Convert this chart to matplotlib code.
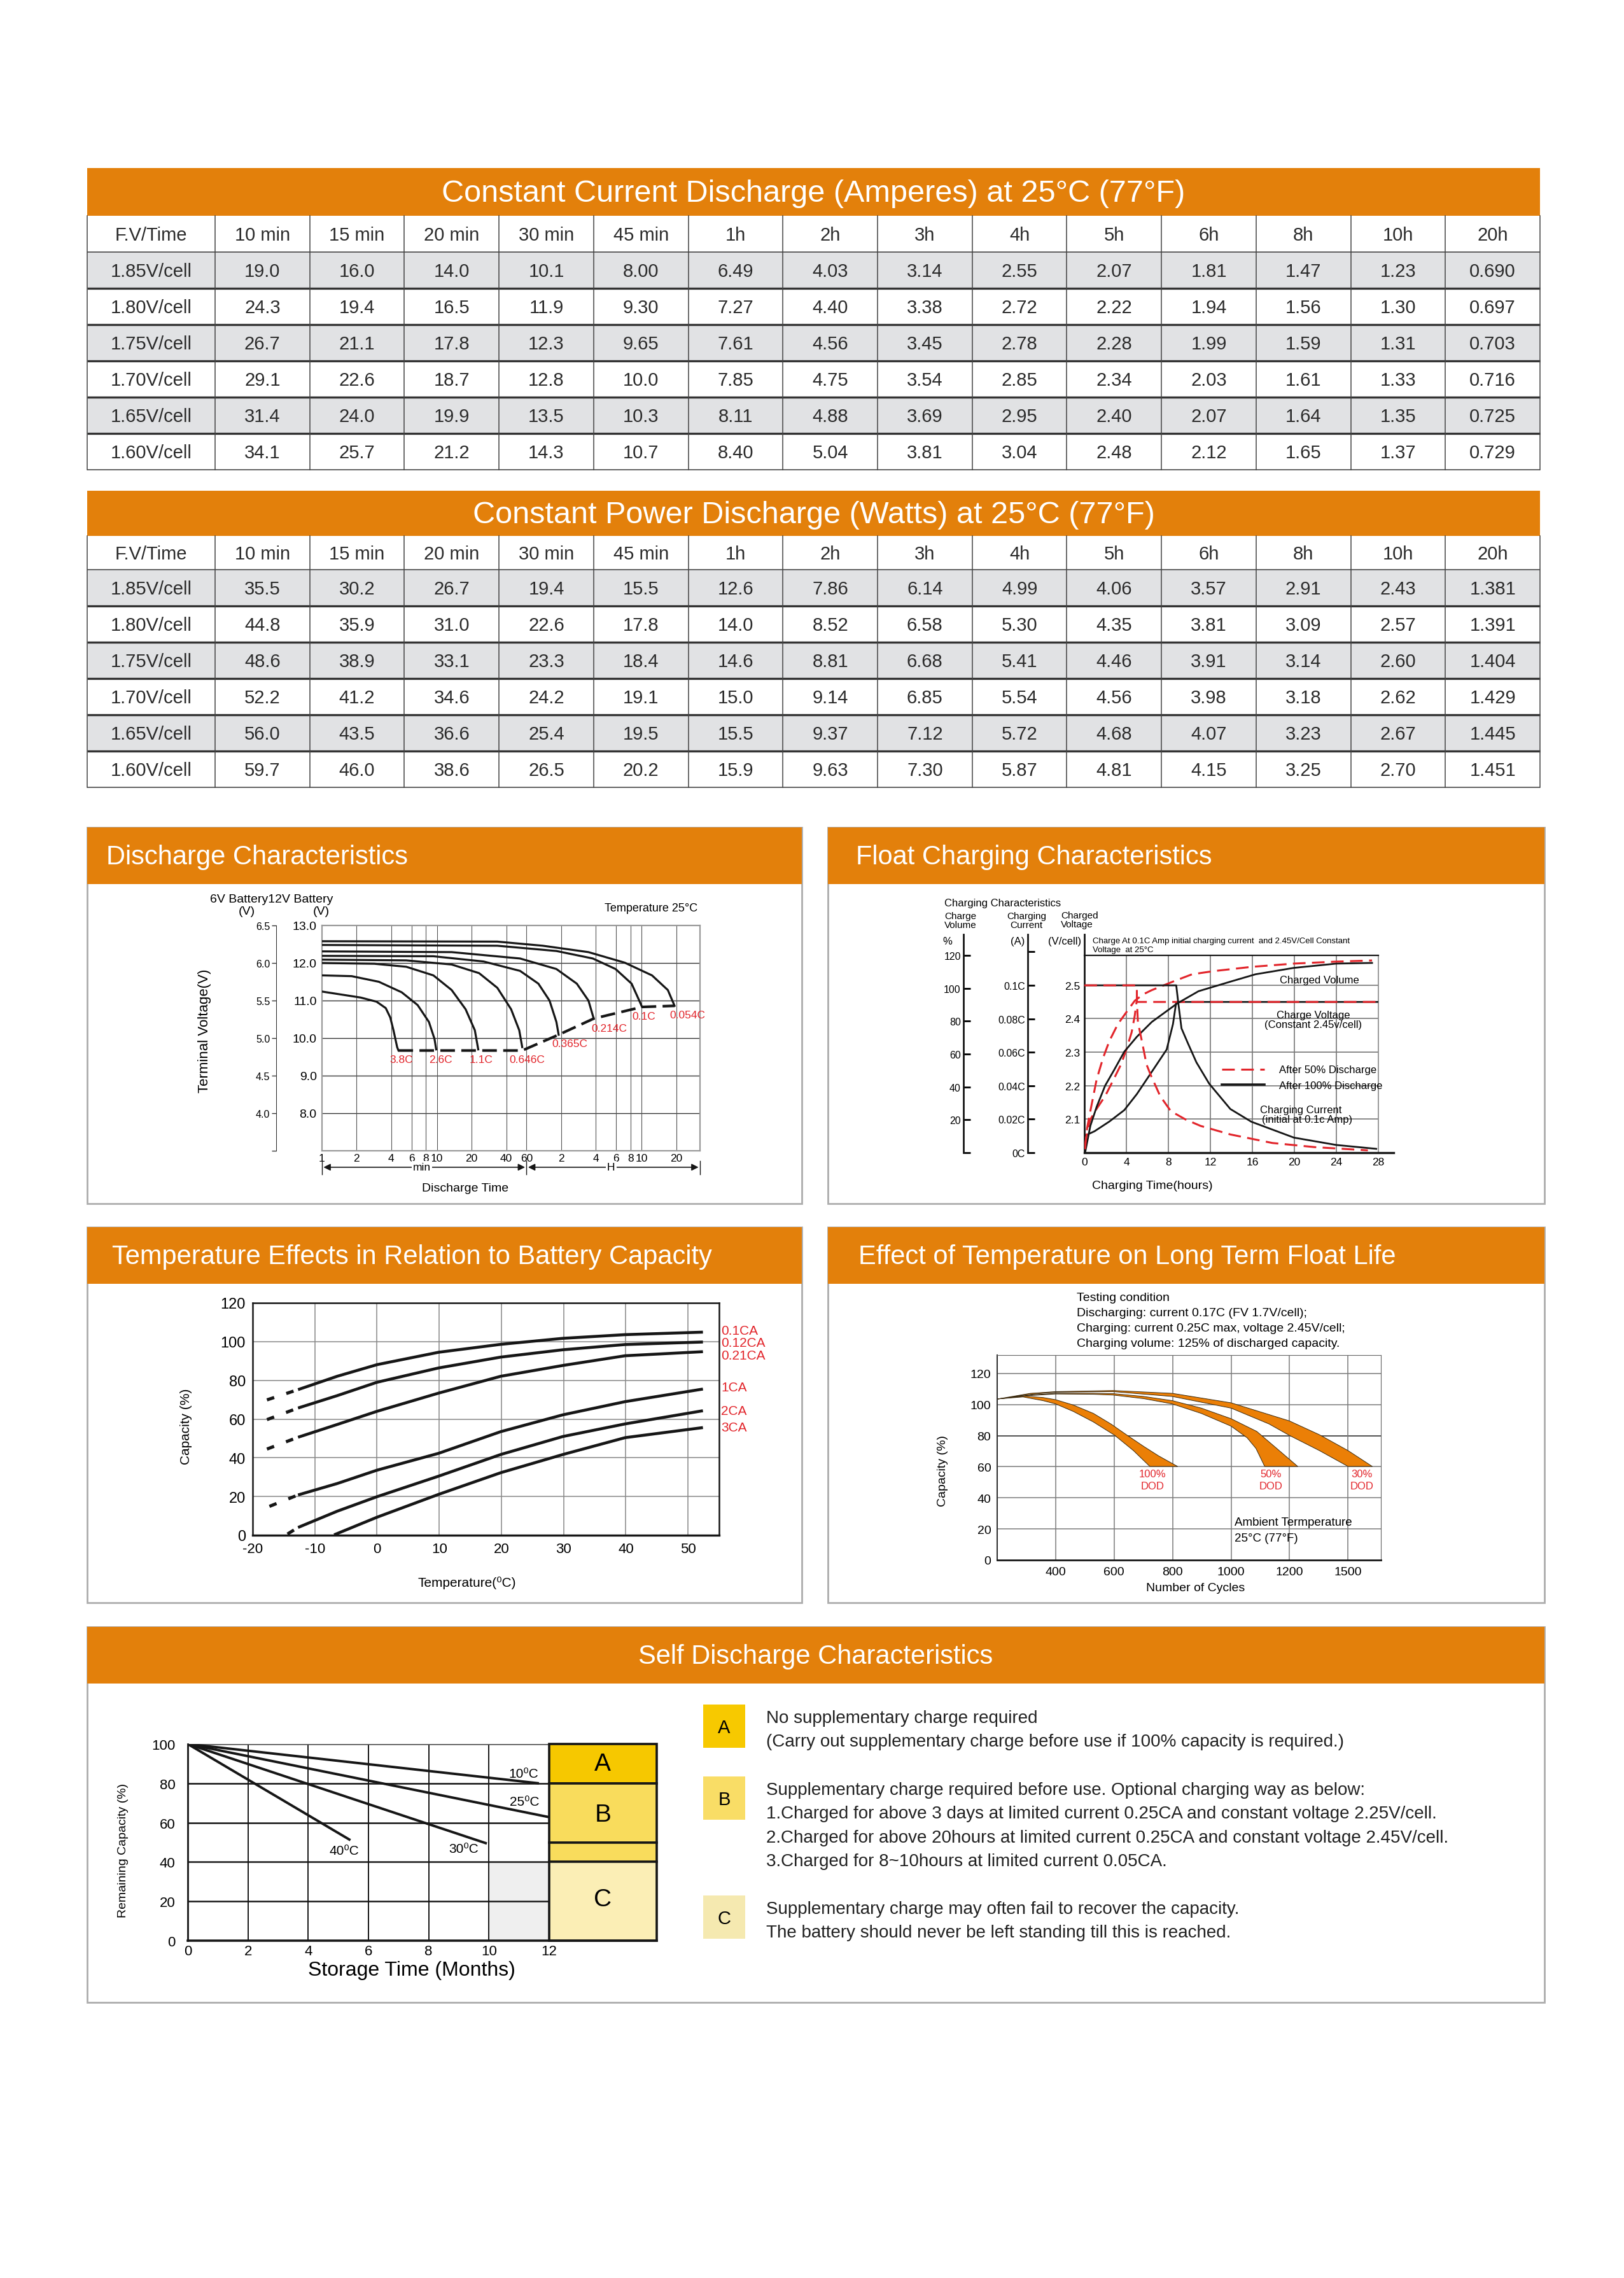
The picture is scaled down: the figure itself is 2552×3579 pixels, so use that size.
import matplotlib
matplotlib.use("Agg")
import matplotlib.pyplot as plt
from matplotlib.patches import Rectangle
from matplotlib.lines import Line2D
from matplotlib.ticker import NullLocator

plt.rcParams['font.family'] = ['Liberation Sans', 'DejaVu Sans']
plt.rcParams['axes.unicode_minus'] = False

W, H = 2552, 3580
ORANGE = '#e3800b'
BAND = '#eb7f06'
RED = '#e2252b'
INK = '#161616'

# ---------------- discharge tables ----------------
time_cols = ['F.V/Time', '10 min', '15 min', '20 min', '30 min', '45 min', '1h', '2h', '3h',
             '4h', '5h', '6h', '8h', '10h', '20h']
fv_labels = ['1.85V/cell', '1.80V/cell', '1.75V/cell', '1.70V/cell', '1.65V/cell', '1.60V/cell']
amps = [
    ['19.0', '16.0', '14.0', '10.1', '8.00', '6.49', '4.03', '3.14', '2.55', '2.07', '1.81', '1.47', '1.23', '0.690'],
    ['24.3', '19.4', '16.5', '11.9', '9.30', '7.27', '4.40', '3.38', '2.72', '2.22', '1.94', '1.56', '1.30', '0.697'],
    ['26.7', '21.1', '17.8', '12.3', '9.65', '7.61', '4.56', '3.45', '2.78', '2.28', '1.99', '1.59', '1.31', '0.703'],
    ['29.1', '22.6', '18.7', '12.8', '10.0', '7.85', '4.75', '3.54', '2.85', '2.34', '2.03', '1.61', '1.33', '0.716'],
    ['31.4', '24.0', '19.9', '13.5', '10.3', '8.11', '4.88', '3.69', '2.95', '2.40', '2.07', '1.64', '1.35', '0.725'],
    ['34.1', '25.7', '21.2', '14.3', '10.7', '8.40', '5.04', '3.81', '3.04', '2.48', '2.12', '1.65', '1.37', '0.729'],
]
watts = [
    ['35.5', '30.2', '26.7', '19.4', '15.5', '12.6', '7.86', '6.14', '4.99', '4.06', '3.57', '2.91', '2.43', '1.381'],
    ['44.8', '35.9', '31.0', '22.6', '17.8', '14.0', '8.52', '6.58', '5.30', '4.35', '3.81', '3.09', '2.57', '1.391'],
    ['48.6', '38.9', '33.1', '23.3', '18.4', '14.6', '8.81', '6.68', '5.41', '4.46', '3.91', '3.14', '2.60', '1.404'],
    ['52.2', '41.2', '34.6', '24.2', '19.1', '15.0', '9.14', '6.85', '5.54', '4.56', '3.98', '3.18', '2.62', '1.429'],
    ['56.0', '43.5', '36.6', '25.4', '19.5', '15.5', '9.37', '7.12', '5.72', '4.68', '4.07', '3.23', '2.67', '1.445'],
    ['59.7', '46.0', '38.6', '26.5', '20.2', '15.9', '9.63', '7.30', '5.87', '4.81', '4.15', '3.25', '2.70', '1.451'],
]

# ---------------- discharge characteristics (minutes, 12V volts) ----------------
rate_labels = ['3.8C', '2.6C', '1.1C', '0.646C', '0.365C', '0.214C', '0.1C', '0.054C']
d38_t = [1, 2.17, 2.98, 3.58, 3.92, 4.18, 4.5, 4.62]
d38_v = [11.24, 11.08, 10.97, 10.80, 10.55, 10.21, 9.76, 9.67]
d26_t = [1.02, 1.81, 3.12, 4.93, 6.78, 8.5, 9.5, 9.83]
d26_v = [11.67, 11.65, 11.5, 11.22, 10.88, 10.43, 9.98, 9.70]
d11_t = [1, 2.85, 5.4, 9.3, 13.4, 17.7, 21.3, 22.8]
d11_v = [12.0, 11.98, 11.9, 11.67, 11.28, 10.77, 10.21, 9.70]
d0646_t = [1, 5.4, 13.4, 23.2, 33.4, 44, 51.8, 55]
d0646_v = [12.09, 12.07, 11.96, 11.73, 11.34, 10.77, 10.21, 9.76]
d0365_t = [1, 9.3, 25.4, 52.7, 76, 95, 109, 114]
d0365_v = [12.19, 12.18, 12.04, 11.79, 11.45, 11.0, 10.43, 10.09]
d0214_t = [1, 13.4, 52.7, 109, 164, 207, 230]
d0214_v = [12.31, 12.29, 12.12, 11.84, 11.45, 11.0, 10.52]
d01_t = [1, 33.4, 109, 226, 356, 491, 572, 605]
d01_v = [12.48, 12.46, 12.32, 12.12, 11.84, 11.45, 11.0, 10.83]
d0054_t = [1, 33.4, 83, 207, 427, 739, 1014, 1160]
d0054_v = [12.58, 12.57, 12.46, 12.29, 12.01, 11.67, 11.28, 10.86]
cut_t = [4.62, 55, 114, 230, 605, 1160]
cut_v = [9.67, 9.67, 10.09, 10.52, 10.83, 10.86]
rate_lab_t = [4.9, 10.7, 24.3, 61, 143, 312, 625, 1500]
rate_lab_v = [9.44, 9.44, 9.44, 9.44, 9.86, 10.27, 10.59, 10.62]
dt_ticks = [1, 2, 4, 6, 8, 10, 20, 40, 60, 120, 240, 360, 480, 600, 1200]
dt_labels = ['1', '2', '4', '6', '8', '10', '20', '40', '60', '2', '4', '6', '8', '10', '20']

# ---------------- float charging (hours) ----------------
v100_t = [0, 0.97, 2.38, 3.8, 5.0, 6.22, 7.84, 8.44, 8.75, 28]
v100_v = [2.05, 2.064, 2.093, 2.127, 2.175, 2.232, 2.308, 2.384, 2.45, 2.45]
i100_t = [0, 8.75, 8.95, 9.25, 9.86, 10.67, 11.88, 13.9, 15.9, 19.96, 24.0, 27.8]
i100_a = [0.1, 0.1, 0.0892, 0.0743, 0.0654, 0.054, 0.0413, 0.0261, 0.0185, 0.009, 0.0046, 0.0023]
c100_t = [0.1, 0.57, 1.17, 1.98, 2.79, 3.8, 5.0, 6.42, 8.85, 10.87, 13.9, 16.3, 19.96, 24.0, 27.4]
c100_p = [1, 16.3, 27.9, 40.8, 49.8, 61.4, 70.5, 79.5, 90.8, 98.2, 104, 108.5, 112.4, 115, 115.4]
v50_t = [0.05, 0.3, 0.57, 1.17, 1.98, 2.79, 3.5, 4.0, 4.5, 4.8, 4.97, 28]
v50_v = [2.02, 2.07, 2.099, 2.131, 2.169, 2.219, 2.264, 2.308, 2.359, 2.409, 2.45, 2.45]
i50_t = [0, 5.0, 5.0, 5.1, 5.52, 5.92, 6.32, 7.23, 8.24, 9.65, 11.07, 13.9, 17.9, 21.98, 27.0]
i50_a = [0.1, 0.1, 0.091, 0.078, 0.0654, 0.0527, 0.0464, 0.0337, 0.0248, 0.0198, 0.016, 0.0109, 0.0058, 0.0033, 0.0014]
c50_t = [0.06, 0.26, 0.57, 1.17, 1.78, 2.38, 3.19, 4.2, 4.8, 5.6, 6.4, 8.65, 10.26, 12.28, 15.9, 19.96, 24.0, 27.4]
c50_p = [2.1, 15, 25.3, 44.6, 57.6, 67.9, 78.2, 87.2, 92.4, 96.3, 98.8, 104.6, 108.5, 110.4, 113, 115, 116.2, 116.9]

# ---------------- temperature vs capacity ----------------
temp_solid = [-12.7, -6.4, 0, 9.9, 19.9, 29.9, 39.9, 52.4]
cap_01 = [75.2, 82.1, 88.1, 94.5, 98.6, 101.7, 103.6, 104.9]
cap_012 = [65.7, 72.1, 79, 86.4, 92, 95.8, 98.5, 99.8]
cap_021 = [50.6, 57.2, 64, 73.4, 82.1, 87.7, 92.7, 94.8]
cap_1 = [20.8, 26.7, 33.6, 42.3, 53.5, 62.2, 69, 75.5]
cap_2 = [4, 12.4, 19.9, 30.5, 41.7, 51, 57.5, 64.3]
temp_3 = [-6.9, 0, 9.9, 19.9, 29.9, 39.9, 52.4]
cap_3 = [0.2, 9.3, 21.1, 32.3, 41.7, 50.4, 55.6]
dash_t = [[-17.7, -12.7], [-17.7, -12.7], [-17.7, -12.7], [-17.3, -12.7], [-14.4, -12.7]]
dash_c = [[69.9, 75.2], [59.7, 65.7], [44.5, 50.6], [14.9, 20.8], [0.6, 4]]
ca_labels = ['0.1CA', '0.12CA', '0.21CA', '1CA', '2CA', '3CA']
ca_lab_y = [105.7, 99.3, 92.9, 76.5, 64.4, 55.7]

# ---------------- float life (cycles, %) ----------------
dod100_lo_x = [202, 288, 357, 400, 460, 529, 602, 666, 722]
dod100_lo_y = [103.6, 104.9, 102.5, 100.4, 95.6, 88.8, 80.2, 70.4, 60.2]
dod100_up_x = [202, 288, 357, 400, 460, 529, 589, 645, 701, 752, 817]
dod100_up_y = [103.6, 105.5, 104.5, 103.1, 99.7, 94.3, 87.5, 80.2, 73.1, 67.0, 60.2]
dod50_lo_x = [202, 314, 400, 529, 597, 701, 799, 898, 1000, 1055, 1085, 1115]
dod50_lo_y = [103.6, 105.8, 106.8, 106.6, 106.1, 103.8, 100.4, 94.3, 86.1, 78.6, 71.8, 60.2]
dod50_up_x = [202, 314, 400, 529, 597, 701, 799, 898, 1000, 1088, 1156, 1228]
dod50_up_y = [103.6, 106.1, 107.2, 107.2, 107.0, 105.2, 102.5, 97.7, 90.9, 82.7, 71.8, 60.2]
dod30_lo_x = [202, 314, 400, 597, 799, 1000, 1130, 1199, 1302, 1400]
dod30_lo_y = [103.6, 106.6, 107.9, 108.3, 105.2, 97.7, 87.5, 80.2, 70.4, 60.2]
dod30_up_x = [202, 314, 400, 597, 799, 1000, 1199, 1302, 1400, 1483]
dod30_up_y = [103.6, 107.2, 108.3, 109.0, 107.2, 101.1, 89.5, 80.6, 70.4, 60.2]
dod_labels = ['100%', '50%', '30%']
dod_lab_x = [731, 1137, 1447]
cyc_ticks = [400, 600, 800, 1000, 1200, 1400]
cyc_labels = ['400', '600', '800', '1000', '1200', '1500']

# ---------------- self discharge (months, %) ----------------
sd_months = [[0, 11.66], [0, 12], [0, 9.93], [0, 5.4]]
sd_caps = [[100, 80], [100, 62.8], [100, 49.4], [100, 51.1]]
sd_labels = ['10⁰C', '25⁰C', '30⁰C', '40⁰C']
sd_lab_x = [11.15, 11.18, 9.17, 5.19]
sd_lab_y = [85, 70.8, 46.9, 45.8]
zone_lo = [80, 50, 40, 0]
zone_hi = [100, 80, 50, 40]
zone_col = ['#f6c800', '#f9dc5c', '#f9dc5c', '#fbeeb5']
zone_txt = ['A', 'B', '', 'C']
zone_txt_y = [90, 64, 45, 21]
notes = [
    ['No supplementary charge required',
     '(Carry out supplementary charge before use if 100% capacity is required.)'],
    ['Supplementary charge required before use. Optional charging way as below:',
     '1.Charged for above 3 days at limited current 0.25CA and constant voltage 2.25V/cell.',
     '2.Charged for above 20hours at limited current 0.25CA and constant voltage 2.45V/cell.',
     '3.Charged for 8~10hours at limited current 0.05CA.'],
    ['Supplementary charge may often fail to recover the capacity.',
     'The battery should never be left standing till this is reached.'],
]

fig = plt.figure(figsize=(W / 100, H / 100), dpi=100)
bg = fig.add_axes([0, 0, 1, 1])
bg.set_xlim(0, W)
bg.set_ylim(H, 0)
bg.axis('off')


def rect(x0, y0, x1, y1):
    return [x0 / W, 1 - y1 / H, (x1 - x0) / W, (y1 - y0) / H]


def draw_table(top, band_h, head_h, row_h, title, values):
    x0, x1 = 137, 2420
    first_w = 201
    col_w = (x1 - x0 - first_w) / 14
    edges = [x0] + [x0 + first_w + i * col_w for i in range(15)]
    bg.add_patch(Rectangle((x0, top), x1 - x0, band_h, fc=ORANGE, ec='none'))
    bg.text((x0 + x1) / 2, top + band_h / 2 + 2, title, color='white', fontsize=35,
            ha='center', va='center')
    rows = [time_cols] + [[fv] + vals for fv, vals in zip(fv_labels, values)]
    y = top + band_h
    ys = [y]
    for r, cells in enumerate(rows):
        h = head_h if r == 0 else row_h
        fc = '#e1e2e4' if r % 2 == 1 else 'white'
        bg.add_patch(Rectangle((x0, y), x1 - x0, h, fc=fc, ec='none'))
        for c, txt in enumerate(cells):
            bg.text((edges[c] + edges[c + 1]) / 2, y + h / 2 + 1, txt, fontsize=21,
                    color='#2b2b2b', ha='center', va='center')
        y += h
        ys.append(y)
    for i, yy in enumerate(ys[1:], start=1):
        inner = 2 <= i <= len(ys) - 2
        bg.plot([x0, x1], [yy, yy], color='#333' if inner else '#555',
                lw=2.4 if inner else 1.3, solid_capstyle='butt')
    for xx in edges:
        bg.plot([xx, xx], [ys[0], ys[-1]], color='#444', lw=1.1)


def panel(x0, y0, x1, y1, title, tx, ha='left'):
    bg.add_patch(Rectangle((x0, y0), x1 - x0, y1 - y0, fc='white', ec='#adadad', lw=2))
    bg.add_patch(Rectangle((x0, y0), x1 - x0, 89, fc=ORANGE, ec='none'))
    bg.text(tx, y0 + 46, title, color='white', fontsize=30, ha=ha, va='center')


draw_table(265, 75, 57, 57, 'Constant Current Discharge (Amperes) at 25°C (77°F)', amps)
draw_table(772, 71, 53, 57, 'Constant Power Discharge (Watts) at 25°C (77°F)', watts)

panel(137, 1301, 1260, 1892, 'Discharge Characteristics', 167)
panel(1301, 1301, 2427, 1892, 'Float Charging Characteristics', 1345)
panel(137, 1929, 1260, 2519, 'Temperature Effects in Relation to Battery Capacity', 176)
panel(1301, 1929, 2427, 2519, 'Effect of Temperature on Long Term Float Life', 1349)
panel(137, 2557, 2427, 3147, 'Self Discharge Characteristics', 1282, ha='center')

# ================= Discharge Characteristics =================
ax1 = fig.add_axes(rect(506, 1455, 1100, 1809))
dis_t = [d38_t, d26_t, d11_t, d0646_t, d0365_t, d0214_t, d01_t, d0054_t]
dis_v = [d38_v, d26_v, d11_v, d0646_v, d0365_v, d0214_v, d01_v, d0054_v]
for t, v in zip(dis_t, dis_v):
    ax1.plot(t, v, color=INK, lw=2.3, solid_joinstyle='round', zorder=3)
ax1.plot(cut_t, cut_v, color=INK, lw=3.0, ls=(0, (5.5, 2.4)), zorder=3)
for lab, t, v in zip(rate_labels, rate_lab_t, rate_lab_v):
    ax1.text(t, v, lab, color=RED, fontsize=12.5, ha='center', va='center', clip_on=False, zorder=4)
ax1.set_xscale('log')
ax1.set_xlim(1, 1930)
ax1.set_ylim(7, 13)
ax1.set_xticks(dt_ticks)
ax1.set_xticklabels(dt_labels)
ax1.xaxis.set_minor_locator(NullLocator())
ax1.set_yticks([8, 9, 10, 11, 12, 13])
ax1.set_yticklabels(['8.0', '9.0', '10.0', '11.0', '12.0', '13.0'])
ax1.tick_params(axis='y', length=0, labelsize=14, pad=6)
ax1.tick_params(axis='x', length=0, labelsize=12.5, pad=3)
for v in [8, 9, 10, 11, 12]:
    ax1.axhline(v, color='#333', lw=1.0, zorder=1)
for t in dt_ticks[1:]:
    ax1.axvline(t, color='#555', lw=0.8, zorder=1)
for s in ax1.spines.values():
    s.set_color('#999')
    s.set_linewidth(1.6)
sec = ax1.secondary_yaxis(-0.121, functions=(lambda v: v / 2, lambda v: v * 2))
sec.set_yticks([3.5, 4.0, 4.5, 5.0, 5.5, 6.0, 6.5])
sec.set_yticklabels(['', '4.0', '4.5', '5.0', '5.5', '6.0', '6.5'])
sec.tick_params(length=5, width=1, labelsize=11.5, pad=2, color='#333')
sec.spines['left'].set_color('#333')
trans = ax1.get_xaxis_transform()
for a, b, lab, mid in [(1.0, 60, 'min', 7.4), (60, 1930, 'H', 326)]:
    ax1.annotate('', xy=(a * 1.03, -0.073), xytext=(b / 1.03, -0.073), xycoords=trans,
                 arrowprops=dict(arrowstyle='<|-|>', color=INK, lw=1.2, mutation_scale=16,
                                 shrinkA=0, shrinkB=0), annotation_clip=False)
    ax1.text(mid, -0.073, lab, transform=trans, fontsize=12.5, ha='center', va='center',
             bbox=dict(fc='white', ec='none', pad=1.5))
for xx in [1, 60, 1930]:
    ax1.plot([xx, xx], [-0.045, -0.105], transform=trans, color=INK, lw=1.0, clip_on=False)
bg.text(330, 1413, '6V Battery12V Battery', fontsize=14, ha='left', va='center')
bg.text(388, 1432, '(V)', fontsize=14, ha='center', va='center')
bg.text(505, 1432, '(V)', fontsize=14, ha='center', va='center')
bg.text(950, 1427, 'Temperature 25°C', fontsize=13, ha='left', va='center')
bg.text(322, 1620, 'Terminal Voltage(V)', fontsize=16, rotation=90, ha='center', va='center')
bg.text(731, 1868, 'Discharge Time', fontsize=14, ha='center', va='center')

# ================= Float Charging Characteristics =================
ax2 = fig.add_axes(rect(1704, 1502, 2166, 1812))
ax2c = fig.add_axes(rect(1704, 1502, 2166, 1812), facecolor='none')
ax2i = fig.add_axes(rect(1704, 1502, 2166, 1812), facecolor='none')
red_ls = (0, (6.5, 3.3))
ax2.plot(v100_t, v100_v, color=INK, lw=2.0, zorder=3)
ax2.plot(v50_t, v50_v, color=RED, lw=2.2, ls=red_ls, zorder=4)
ax2c.plot(c100_t, c100_p, color=INK, lw=2.0)
ax2c.plot(c50_t, c50_p, color=RED, lw=2.2, ls=red_ls)
ax2i.plot(i100_t, i100_a, color=INK, lw=2.0)
ax2i.plot(i50_t, i50_a, color=RED, lw=2.2, ls=red_ls)
for a in (ax2, ax2c, ax2i):
    a.set_xlim(0, 28)
ax2.set_ylim(2.0, 2.589)
ax2c.set_ylim(0, 120)
ax2i.set_ylim(0, 0.1179)
ax2c.axis('off')
ax2i.axis('off')
ax2.set_xticks([0, 4, 8, 12, 16, 20, 24, 28])
ax2.set_yticks([2.1, 2.2, 2.3, 2.4, 2.5])
ax2.set_yticklabels(['2.1', '2.2', '2.3', '2.4', '2.5'])
ax2.tick_params(axis='both', length=0, labelsize=12.5)
ax2.tick_params(axis='x', pad=5)
ax2.tick_params(axis='y', pad=5)
for v in [2.1, 2.2, 2.3, 2.4, 2.5]:
    ax2.axhline(v, color='#777', lw=1.2, zorder=1)
for t in [4, 8, 12, 16, 20, 24]:
    ax2.axvline(t, color='#777', lw=1.2, zorder=1)
ax2.spines['left'].set_linewidth(2)
ax2.spines['left'].set_color(INK)
ax2.spines['top'].set_linewidth(1.6)
ax2.spines['top'].set_color(INK)
ax2.spines['right'].set_color('#888')
ax2.spines['right'].set_linewidth(1.2)
ax2.spines['bottom'].set_linewidth(2.2)
ax2.plot([0, 29.45], [2.0, 2.0], color=INK, lw=2.4, clip_on=False, zorder=5)
ax2.text(22.4, 2.515, 'Charged Volume', fontsize=12, ha='center', va='center', zorder=5)
ax2.text(21.8, 2.411, 'Charge Voltage', fontsize=12, ha='center', va='center', zorder=5)
ax2.text(21.8, 2.382, '(Constant 2.45v/cell)', fontsize=12, ha='center', va='center', zorder=5)
ax2.text(20.6, 2.129, 'Charging Current', fontsize=12, ha='center', va='center', zorder=5)
ax2.text(21.2, 2.099, '(initial at 0.1c Amp)', fontsize=12, ha='center', va='center', zorder=5)
leg_handles = [Line2D([], [], color=RED, lw=2.2, ls=red_ls), Line2D([], [], color=INK, lw=2.6)]
ax2i.legend(leg_handles, ['After 50% Discharge', 'After 100% Discharge'], loc='upper left',
            bbox_to_anchor=(0.468, 0.444), frameon=False, fontsize=12, handlelength=4.0,
            handletextpad=1.4, labelspacing=0.55, borderpad=0, borderaxespad=0)

ax2p = fig.add_axes(rect(1514, 1469, 1515, 1812), facecolor='none')
ax2p.set_ylim(0, 132.8)
ax2p.set_yticks([0, 20, 40, 60, 80, 100, 120])
ax2p.set_yticklabels(['', '20', '40', '60', '80', '100', '120'])
ax2a = fig.add_axes(rect(1615, 1469, 1616, 1812), facecolor='none')
ax2a.set_ylim(0, 0.1304)
ax2a.set_yticks([0, 0.02, 0.04, 0.06, 0.08, 0.1, 0.12])
ax2a.set_yticklabels(['0C', '0.02C', '0.04C', '0.06C', '0.08C', '0.1C', ''])
for a in (ax2p, ax2a):
    a.set_xticks([])
    for k in ('top', 'right', 'bottom'):
        a.spines[k].set_visible(False)
    a.spines['left'].set_linewidth(2)
    a.spines['left'].set_color(INK)
    a.tick_params(axis='y', direction='in', length=8, width=2, labelsize=11.5, pad=3)
bg.plot([1704, 1704], [1469, 1502], color=INK, lw=2)
bg.text(1484, 1419, 'Charging Characteristics', fontsize=12, ha='left', va='center')
bg.text(1484, 1447, 'Charge\nVolume', fontsize=11, ha='left', va='center', linespacing=1.0)
bg.text(1613, 1447, 'Charging\nCurrent', fontsize=11, ha='center', va='center',
        linespacing=1.0, multialignment='center')
bg.text(1667, 1446, 'Charged\nVoltage', fontsize=11, ha='left', va='center', linespacing=1.0)
bg.text(1489, 1479, '%', fontsize=12, ha='center', va='center')
bg.text(1599, 1479, '(A)', fontsize=12, ha='center', va='center')
bg.text(1673, 1479, '(V/cell)', fontsize=12, ha='center', va='center')
bg.text(1717, 1479, 'Charge At 0.1C Amp initial charging current  and 2.45V/Cell Constant',
        fontsize=9.5, ha='left', va='center')
bg.text(1717, 1493, 'Voltage  at 25°C', fontsize=9.5, ha='left', va='center')
bg.text(1811, 1863, 'Charging Time(hours)', fontsize=14, ha='center', va='center')

# ================= Temperature Effects =================
ax3 = fig.add_axes(rect(397, 2048, 1130, 2413))
solid_caps = [cap_01, cap_012, cap_021, cap_1, cap_2]
for caps in solid_caps:
    ax3.plot(temp_solid, caps, color=INK, lw=3.3, solid_capstyle='butt', zorder=3)
ax3.plot(temp_3, cap_3, color=INK, lw=3.3, solid_capstyle='butt', zorder=3)
for t, c in zip(dash_t, dash_c):
    ax3.plot(t, c, color=INK, lw=3.6, ls=(0, (2.4, 4.0)), zorder=3)
for lab, y in zip(ca_labels, ca_lab_y):
    ax3.text(55.3, y, lab, color=RED, fontsize=15, ha='left', va='center', clip_on=False)
ax3.set_xlim(-20, 55)
ax3.set_ylim(0, 120)
ax3.set_xticks([-20, -10, 0, 10, 20, 30, 40, 50])
ax3.set_yticks([0, 20, 40, 60, 80, 100, 120])
ax3.tick_params(axis='x', length=0, labelsize=16, pad=8)
ax3.tick_params(axis='y', length=0, labelsize=17, pad=8)
for v in [20, 40, 60, 80, 100]:
    ax3.axhline(v, color='#888', lw=1.1, zorder=1)
for t in [-10, 0, 10, 20, 30, 40, 50]:
    ax3.axvline(t, color='#888', lw=1.1, zorder=1)
for s in ax3.spines.values():
    s.set_color(INK)
    s.set_linewidth(1.8)
ax3.spines['bottom'].set_linewidth(2.4)
bg.text(293, 2241, 'Capacity (%)', fontsize=15, rotation=90, ha='center', va='center')
bg.text(734, 2487, 'Temperature(⁰C)', fontsize=15, ha='center', va='center')

# ================= Float Life =================
ax4 = fig.add_axes(rect(1567, 2130, 2170, 2452))
bands = [(dod100_lo_x, dod100_lo_y, dod100_up_x, dod100_up_y),
         (dod50_lo_x, dod50_lo_y, dod50_up_x, dod50_up_y),
         (dod30_lo_x, dod30_lo_y, dod30_up_x, dod30_up_y)]
for lx, ly, ux, uy in bands:
    ax4.fill(lx + ux[::-1], ly + uy[::-1], fc=BAND, ec='#3a2a10', lw=0.7, zorder=3,
             joinstyle='round')
for lab, x in zip(dod_labels, dod_lab_x):
    ax4.text(x, 55.3, lab, color=RED, fontsize=12, ha='center', va='center')
    ax4.text(x, 47.6, 'DOD', color=RED, fontsize=12, ha='center', va='center')
ax4.text(1012, 24.3, 'Ambient Termperature', fontsize=13.5, ha='left', va='center')
ax4.text(1012, 14.3, '25°C (77°F)', fontsize=13.5, ha='left', va='center')
ax4.set_xlim(200, 1512.5)
ax4.set_ylim(0, 131.8)
ax4.set_xticks(cyc_ticks)
ax4.set_xticklabels(cyc_labels)
ax4.set_yticks([0, 20, 40, 60, 80, 100, 120])
ax4.tick_params(length=0, labelsize=14, pad=7)
for v in [20, 40, 60, 80, 100, 120]:
    ax4.axhline(v, color='#222' if v == 80 else '#7a7a7a', lw=1.1, zorder=1)
for t in cyc_ticks:
    ax4.axvline(t, color='#7a7a7a', lw=1.1, zorder=1)
ax4.spines['left'].set_color('#333')
ax4.spines['left'].set_linewidth(1.5)
ax4.spines['bottom'].set_color(INK)
ax4.spines['bottom'].set_linewidth(2)
ax4.spines['top'].set_color('#666')
ax4.spines['right'].set_color('#666')
for i, line in enumerate(['Testing condition',
                          'Discharging: current 0.17C (FV 1.7V/cell);',
                          'Charging: current 0.25C max, voltage 2.45V/cell;',
                          'Charging volume: 125% of discharged capacity.']):
    bg.text(1692, 2039 + 24 * i, line, fontsize=14, ha='left', va='center')
bg.text(1482, 2311, 'Capacity (%)', fontsize=14, rotation=90, ha='center', va='center')
bg.text(1879, 2496, 'Number of Cycles', fontsize=14, ha='center', va='center')

# ================= Self Discharge =================
ax5 = fig.add_axes(rect(295, 2741, 1032, 3050))
ax5.set_xlim(0, 15.57)
ax5.set_ylim(0, 100)
ax5.add_patch(Rectangle((10, 0), 2, 40, fc='#efefef', ec='none', zorder=0))
for lo, hi, col, txt, ty in zip(zone_lo, zone_hi, zone_col, zone_txt, zone_txt_y):
    ax5.add_patch(Rectangle((12, lo), 3.57, hi - lo, fc=col, ec=INK, lw=2.6,
                            clip_on=False, zorder=2))
    if txt:
        ax5.text(13.78, ty, txt, fontsize=28, ha='center', va='center', zorder=3)
ax5.vlines([2, 4, 6, 8, 10], 0, 100, color=INK, lw=1.4, zorder=1)
ax5.hlines([20, 40, 60, 80], 0, 12, color=INK, lw=1.8, zorder=1)
ax5.hlines([100], 0, 12, color='#555', lw=1.8, zorder=1)
for m, c in zip(sd_months, sd_caps):
    ax5.plot(m, c, color=INK, lw=2.8, solid_capstyle='butt', zorder=3)
for lab, x, y in zip(sd_labels, sd_lab_x, sd_lab_y):
    ax5.text(x, y, lab, fontsize=15, ha='center', va='center', zorder=3)
ax5.set_xticks([0, 2, 4, 6, 8, 10, 12])
ax5.set_yticks([0, 20, 40, 60, 80, 100])
ax5.tick_params(axis='x', length=0, labelsize=16, pad=4)
ax5.tick_params(axis='y', length=0, labelsize=16, pad=14)
ax5.spines['top'].set_visible(False)
ax5.spines['right'].set_visible(False)
ax5.spines['left'].set_color(INK)
ax5.spines['left'].set_linewidth(2)
ax5.spines['bottom'].set_color(INK)
ax5.spines['bottom'].set_linewidth(2.6)
bg.text(194, 2907, 'Remaining Capacity (%)', fontsize=14, rotation=90, ha='center', va='center')
bg.text(647, 3096, 'Storage Time (Months)', fontsize=23, ha='center', va='center')

box_top = [2679, 2792, 2979]
box_col = ['#f7c900', '#f9dd66', '#f5e9b0']
for lines, top, col, letter in zip(notes, box_top, box_col, ['A', 'B', 'C']):
    bg.add_patch(Rectangle((1105, top), 66, 68, fc=col, ec='none'))
    bg.text(1138, top + 36, letter, fontsize=21, ha='center', va='center')
    for i, line in enumerate(lines):
        bg.text(1204, top + 21 + 37.3 * i, line, fontsize=20, color='#222', ha='left', va='center')

fig.savefig('out.png', dpi=100)
print('saved out.png')
